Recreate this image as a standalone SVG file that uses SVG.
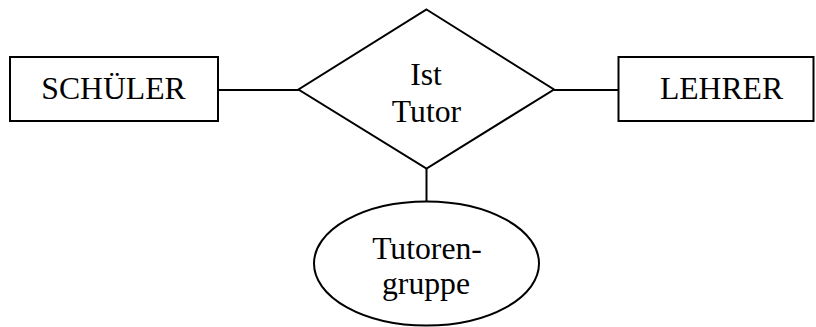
<svg xmlns="http://www.w3.org/2000/svg" width="816" height="327" viewBox="0 0 816 327">
<style>
.s{fill:#fff;stroke:#000;stroke-width:2}
.c{stroke:#000;stroke-width:2;fill:none}
text{font-family:"Liberation Serif","Times New Roman",serif;font-size:31.7px;fill:#000;text-anchor:middle}
</style>
<rect width="816" height="327" fill="#fff"/>
<g id="connectors">
<line class="c" x1="218" y1="90" x2="299" y2="90"/>
<line class="c" x1="554" y1="90" x2="618" y2="90"/>
<line class="c" x1="426.5" y1="168" x2="426.5" y2="202"/>
</g>
<g id="schueler">
<rect class="s" x="10" y="57" width="208" height="64"/>
<text x="113.5" y="98.5">SCHÜLER</text>
</g>
<g id="lehrer">
<rect class="s" x="618.5" y="57" width="195" height="64"/>
<text x="721.5" y="98.5">LEHRER</text>
</g>
<g id="isttutor">
<polygon class="s" points="426.5,9.5 554,89.5 426.5,168.5 298.5,89.5"/>
<text x="426" y="85">Ist</text>
<text x="426.5" y="121.5">Tutor</text>
</g>
<g id="tutorengruppe">
<ellipse class="s" cx="426.5" cy="263.5" rx="112.5" ry="62"/>
<text x="427" y="258.5">Tutoren-</text>
<text x="426" y="293.5">gruppe</text>
</g>
</svg>
